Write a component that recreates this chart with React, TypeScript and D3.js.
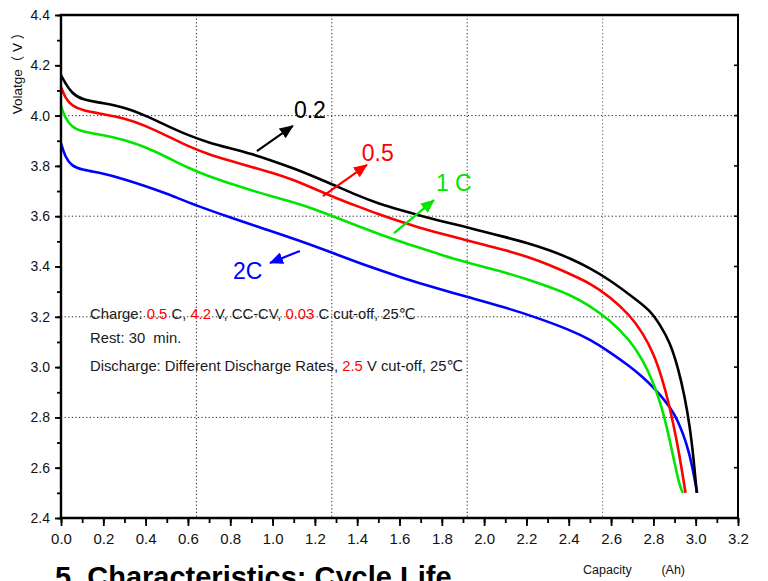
import React, { useEffect, useRef } from 'react';
import * as d3 from 'd3';

// capacity (Ah), voltage (V)
const rate02 = [
  [0, 4.16], [0.02, 4.13], [0.05, 4.09], [0.1, 4.062], [0.2, 4.05], [0.3, 4.033],
  [0.4, 4.0], [0.5, 3.96], [0.6, 3.922], [0.7, 3.892], [0.8, 3.87], [0.9, 3.848],
  [1.0, 3.82], [1.1, 3.79], [1.2, 3.756], [1.3, 3.72], [1.4, 3.683], [1.5, 3.65],
  [1.6, 3.625], [1.7, 3.602], [1.8, 3.58], [1.9, 3.56], [2.0, 3.538], [2.1, 3.517],
  [2.2, 3.495], [2.31, 3.465], [2.405, 3.433], [2.5, 3.394], [2.594, 3.346],
  [2.689, 3.287], [2.784, 3.227], [2.83, 3.17], [2.878, 3.1], [2.916, 3.0],
  [2.949, 2.88], [2.973, 2.76], [2.991, 2.63], [3.005, 2.5],
];
const rate05 = [
  [0, 4.114], [0.02, 4.07], [0.05, 4.04], [0.1, 4.02], [0.2, 4.006], [0.3, 3.99],
  [0.4, 3.96], [0.5, 3.92], [0.6, 3.878], [0.7, 3.845], [0.8, 3.82], [0.9, 3.796],
  [1.0, 3.772], [1.1, 3.744], [1.2, 3.708], [1.3, 3.672], [1.4, 3.64], [1.5, 3.608],
  [1.6, 3.579], [1.7, 3.553], [1.8, 3.53], [1.9, 3.508], [2.0, 3.486], [2.1, 3.465],
  [2.2, 3.44], [2.31, 3.406], [2.405, 3.37], [2.5, 3.334], [2.594, 3.28],
  [2.689, 3.207], [2.75, 3.135], [2.8, 3.056], [2.84, 2.96], [2.878, 2.84],
  [2.91, 2.71], [2.935, 2.59], [2.952, 2.5],
];
const rate1 = [
  [0, 4.038], [0.02, 3.99], [0.05, 3.955], [0.1, 3.935], [0.2, 3.923], [0.3, 3.903],
  [0.4, 3.875], [0.5, 3.835], [0.6, 3.792], [0.7, 3.758], [0.8, 3.73], [0.9, 3.703],
  [1.0, 3.678], [1.1, 3.655], [1.2, 3.628], [1.3, 3.595], [1.4, 3.562], [1.5, 3.53],
  [1.6, 3.5], [1.7, 3.473], [1.8, 3.446], [1.9, 3.42], [2.0, 3.398], [2.1, 3.376],
  [2.2, 3.35], [2.31, 3.318], [2.405, 3.288], [2.5, 3.244], [2.594, 3.187],
  [2.689, 3.108], [2.75, 3.028], [2.8, 2.94], [2.84, 2.84], [2.87, 2.738],
  [2.9, 2.62], [2.925, 2.523], [2.94, 2.5],
];
const rate2 = [
  [0, 3.89], [0.02, 3.835], [0.05, 3.8], [0.1, 3.784], [0.2, 3.77], [0.3, 3.747],
  [0.4, 3.72], [0.5, 3.69], [0.64, 3.642], [0.8, 3.595], [0.97, 3.547],
  [1.13, 3.502], [1.29, 3.452], [1.46, 3.398], [1.617, 3.354], [1.772, 3.314],
  [1.933, 3.276], [2.089, 3.24], [2.245, 3.198], [2.405, 3.148], [2.5, 3.11],
  [2.594, 3.06], [2.689, 3.003], [2.75, 2.96], [2.8, 2.92], [2.85, 2.872],
  [2.9, 2.815], [2.94, 2.738], [2.97, 2.658], [2.99, 2.578], [3.007, 2.5],
];

const seriesColors = ['#000000', '#ff0000', '#00e600', '#0000ff'];
const seriesNames = ['0.2', '0.5', '1 C', '2C'];
// label position and arrow [from, to] in data units
const labelPos = [[1.101, 3.99], [1.422, 3.82], [1.772, 3.70], [0.813, 3.35]];
const arrowFrom = [[0.926, 3.859], [1.238, 3.68], [1.574, 3.533], [1.129, 3.462]];
const arrowTo = [[1.096, 3.959], [1.446, 3.804], [1.763, 3.664], [0.988, 3.414]];

const xGrid = [0.64, 1.28, 1.92, 2.56];
const yGrid = [4.0, 3.6, 3.2, 2.8];
const xMinor = d3.range(0, 33).map(i => i / 10);
const xMajor = d3.range(0, 17).map(i => i / 5);
const yMinor = d3.range(24, 45).map(i => i / 10);
const yMajor = d3.range(12, 23).map(i => i / 5);

const FONT = "'Liberation Sans', Arial, 'DejaVu Sans', sans-serif";

function DischargeChart() {
  const svgRef = useRef<SVGSVGElement>(null);

  useEffect(() => {
    const svg = d3.select(svgRef.current);
    svg.selectAll('*').remove();

    const left = 61, right = 738, top = 15, bottom = 518;
    const x = d3.scaleLinear().domain([0, 3.2]).range([left, right]);
    const y = d3.scaleLinear().domain([2.4, 4.4]).range([bottom, top]);

    const defs = svg.append('defs');
    seriesColors.forEach((c, i) => {
      defs.append('marker')
        .attr('id', `arrow${i}`)
        .attr('markerUnits', 'userSpaceOnUse')
        .attr('viewBox', '0 -6 14 12')
        .attr('refX', 13)
        .attr('refY', 0)
        .attr('markerWidth', 14)
        .attr('markerHeight', 12)
        .attr('orient', 'auto')
        .append('path')
        .attr('d', 'M0,-6L14,0L0,6Z')
        .attr('fill', c);
    });

    // dotted grid
    svg.append('g')
      .selectAll('line.vg')
      .data(xGrid)
      .join('line')
      .attr('x1', d => x(d)).attr('x2', d => x(d))
      .attr('y1', top).attr('y2', bottom)
      .attr('stroke', (d, i) => (i === 3 ? '#666' : '#222'))
      .attr('stroke-width', 1)
      .attr('stroke-dasharray', '1.2,2.4');
    svg.append('g')
      .selectAll('line.hg')
      .data(yGrid)
      .join('line')
      .attr('x1', left).attr('x2', right)
      .attr('y1', d => y(d)).attr('y2', d => y(d))
      .attr('stroke', '#222')
      .attr('stroke-width', 1)
      .attr('stroke-dasharray', '1.2,2.4');

    // conditions text
    const note = svg.append('g')
      .attr('font-family', FONT)
      .attr('font-size', 14.8)
      .attr('fill', '#1a1a1a');
    const l1 = note.append('text').attr('x', 90).attr('y', 319);
    [['Charge: ', '#1a1a1a'], ['0.5', '#ff0000'], [' C, ', '#1a1a1a'], ['4.2', '#ff0000'],
      [' V, CC-CV, ', '#1a1a1a'], ['0.03', '#ff0000'], [' C cut-off, 25℃', '#1a1a1a']]
      .forEach(([t, c]) => l1.append('tspan').attr('fill', c).text(t));
    note.append('text').attr('x', 90).attr('y', 343)
      .attr('xml:space', 'preserve')
      .style('white-space', 'pre')
      .text('Rest: 30  min.');
    const l3 = note.append('text').attr('x', 90).attr('y', 371);
    [['Discharge: Different Discharge Rates, ', '#1a1a1a'], ['2.5', '#ff0000'],
      [' V cut-off, 25℃', '#1a1a1a']]
      .forEach(([t, c]) => l3.append('tspan').attr('fill', c).text(t));

    // curves
    const line = d3.line<number[]>()
      .x(d => x(d[0]))
      .y(d => y(d[1]))
      .curve(d3.curveBasis);
    svg.append('g')
      .selectAll('path')
      .data([rate2, rate1, rate05, rate02])
      .join('path')
      .attr('d', d => line(d))
      .attr('fill', 'none')
      .attr('stroke', (d, i) => seriesColors[3 - i])
      .attr('stroke-width', 2.6)
      .attr('stroke-linejoin', 'round');

    // arrows and rate labels
    svg.append('g')
      .selectAll('line')
      .data(arrowFrom)
      .join('line')
      .attr('x1', d => x(d[0])).attr('y1', d => y(d[1]))
      .attr('x2', (d, i) => x(arrowTo[i][0])).attr('y2', (d, i) => y(arrowTo[i][1]))
      .attr('stroke', (d, i) => seriesColors[i])
      .attr('stroke-width', 2.2)
      .attr('marker-end', (d, i) => `url(#arrow${i})`);
    svg.append('g')
      .selectAll('text')
      .data(labelPos)
      .join('text')
      .attr('x', d => x(d[0]))
      .attr('y', d => y(d[1]))
      .attr('font-family', FONT)
      .attr('font-size', 23)
      .attr('fill', (d, i) => seriesColors[i])
      .text((d, i) => seriesNames[i]);

    // frame
    const frame = svg.append('g').attr('stroke', '#000').attr('fill', 'none');
    frame.append('line').attr('x1', left - 1).attr('x2', right + 1).attr('y1', top).attr('y2', top).attr('stroke-width', 2.4);
    frame.append('line').attr('x1', right).attr('x2', right).attr('y1', top).attr('y2', bottom).attr('stroke-width', 2);
    frame.selectAll('line.rt')
      .data(yMajor)
      .join('line')
      .attr('x1', right - 4).attr('x2', right + 1)
      .attr('y1', d => y(d)).attr('y2', d => y(d))
      .attr('stroke-width', 1.6);

    // bottom axis
    const gx = svg.append('g').attr('transform', `translate(0,${bottom})`);
    gx.append('g')
      .call(d3.axisBottom(x).tickValues(xMinor).tickSize(5).tickSizeOuter(0).tickFormat(() => ''))
      .call(g => g.select('.domain').remove());
    gx.append('g')
      .call(d3.axisBottom(x).tickValues(xMajor).tickSize(8).tickSizeOuter(0).tickFormat(d3.format('.1f')))
      .call(g => g.select('.domain').remove())
      .call(g => g.selectAll('text').attr('y', 15.5).attr('font-size', 15).attr('font-family', FONT).attr('fill', '#111'));
    gx.selectAll('line').attr('stroke', '#000').attr('stroke-width', 1.8);
    gx.append('line').attr('x1', left - 1).attr('x2', right + 1).attr('stroke', '#000').attr('stroke-width', 2.4);

    // left axis
    const gy = svg.append('g').attr('transform', `translate(${left},0)`);
    gy.append('g')
      .call(d3.axisLeft(y).tickValues(yMinor).tickSize(4).tickSizeOuter(0).tickFormat(() => ''))
      .call(g => g.select('.domain').remove());
    gy.append('g')
      .call(d3.axisLeft(y).tickValues(yMajor).tickSize(6).tickSizeOuter(0).tickFormat(d3.format('.1f')))
      .call(g => g.select('.domain').remove())
      .call(g => g.selectAll('text').attr('x', -11).attr('font-size', 14).attr('font-family', FONT).attr('fill', '#111'));
    gy.selectAll('line').attr('stroke', '#000').attr('stroke-width', 1.8);
    gy.append('line').attr('y1', top - 1).attr('y2', bottom + 1).attr('stroke', '#000').attr('stroke-width', 2.4);

    // axis titles
    svg.append('text')
      .attr('transform', 'translate(22,70) rotate(-90)')
      .attr('text-anchor', 'middle')
      .attr('font-family', `${FONT}, 'Noto Sans CJK SC'`)
      .attr('font-size', 13.5)
      .attr('fill', '#111')
      .text('Volatge（ V ）');
    svg.append('text')
      .attr('x', 583).attr('y', 574)
      .attr('font-family', FONT).attr('font-size', 12.5).attr('fill', '#111')
      .text('Capacity');
    svg.append('text')
      .attr('x', 685).attr('y', 574)
      .attr('text-anchor', 'end')
      .attr('font-family', FONT).attr('font-size', 12.5).attr('fill', '#111')
      .text('(Ah)');

    // section heading below the chart, cut by the page edge as in the source page
    svg.append('text')
      .attr('x', 55).attr('y', 587)
      .attr('font-family', FONT).attr('font-size', 29).attr('font-weight', 'bold')
      .attr('fill', '#000')
      .text('5. Characteristics: Cycle Life');
  }, []);

  return <svg ref={svgRef} width={768} height={581} style={{ display: 'block' }} />;
}

export default function App() {
  return (
    <div style={{ position: 'absolute', left: 0, top: 0, width: 768, height: 581, background: '#fff', overflow: 'hidden' }}>
      <DischargeChart />
    </div>
  );
}
